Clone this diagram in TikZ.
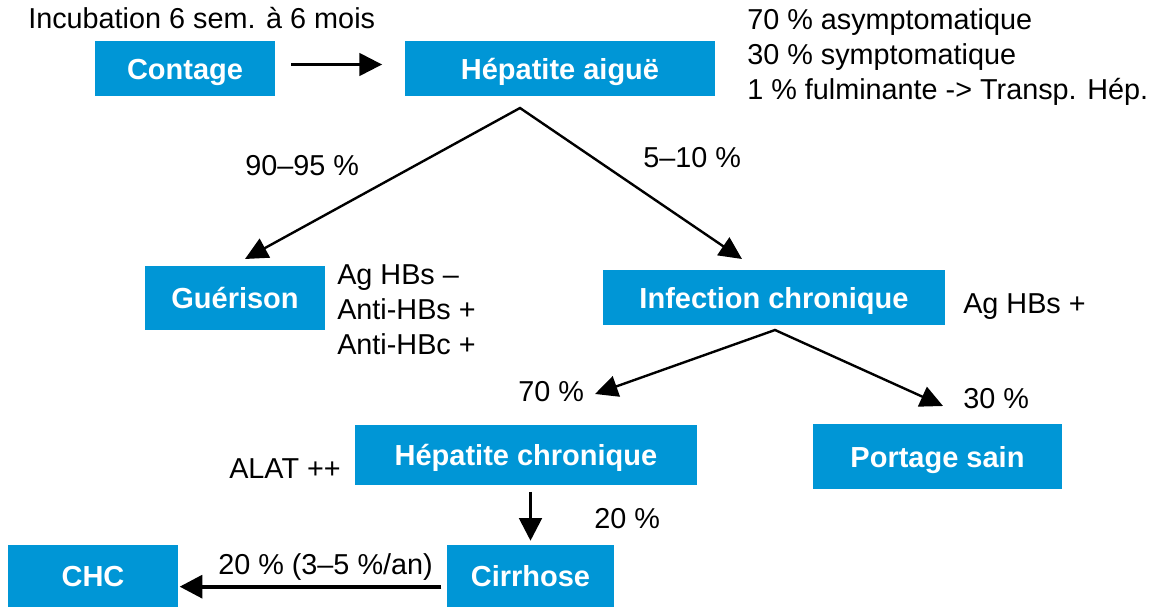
\documentclass[tikz,border=0pt]{standalone}
\usepackage{fontspec}
\setmainfont{Liberation Sans}
\usetikzlibrary{arrows.meta}
\definecolor{boxblue}{RGB}{0,150,214}
\tikzset{
  bluebox/.style={fill=boxblue, text=white, inner sep=0pt, text height=15.8pt, text depth=0pt, font=\fontsize{21.75}{26.25}\selectfont\bfseries},
  wh/.style 2 args={minimum width=#1*0.75pt, minimum height=#2*0.75pt},
  txt/.style={inner sep=0pt, align=left, font=\fontsize{21.6}{26.25}\selectfont},
  arr/.style={line width=1.8pt, -{Triangle[length=17pt,width=17pt]}},
  twoarr/.style={line width=1.8pt, {Triangle[length=17pt,width=16pt]}-{Triangle[length=17pt,width=16pt]}},
}

\begin{document}
\begin{tikzpicture}[x=0.75pt,y=0.75pt,yscale=-1,xscale=1]
\path[use as bounding box] (0,0) rectangle (1154,613);

%Shape: Boxes
\node[bluebox, wh={180}{55}] (cont) at (185,68.5) {Contage};
\node[bluebox, wh={310}{55}] (aigue) at (560,68.5) {Hépatite aiguë};
\node[bluebox, wh={180}{64}] (guer) at (235,298) {Guérison};
\node[bluebox, wh={342}{55}] (infchr) at (774,297.5) {Infection chronique};
\node[bluebox, wh={342}{60}] (hepchr) at (526,455) {Hépatite chronique};
\node[bluebox, wh={249}{65}] (portage) at (937.5,456.5) {Portage sain};
\node[bluebox, wh={167}{62}] (cirr) at (530.5,576) {Cirrhose};
\node[bluebox, wh={170}{62}] (chc) at (93,576) {CHC};

% Text Node
\node[txt, anchor=base west] (incub) at (28,29) {Incubation 6 sem. à 6 mois};
% Text Node
\node[txt, anchor=north west] (formes) at (747,8) {70 \% asymptomatique\\30 \% symptomatique\\1 \% fulminante -> Transp. Hép.};
% Text Node
\node[txt, anchor=base west] (p9095) at (245,176) {90–95 \%};
\node[txt, anchor=base west] (p510) at (643,168) {5–10 \%};
% Text Node
\node[txt, anchor=north west] (serol) at (337,264) {Ag HBs –\\Anti-HBs +\\Anti-HBc +};
\node[txt, anchor=base west] (aghbs) at (963,313) {Ag HBs +};
% Text Node
\node[txt, anchor=base west] (p70) at (518,401) {70 \%};
\node[txt, anchor=base west] (p30) at (963,408) {30 \%};
\node[txt, anchor=base west] (alat) at (229,478) {ALAT ++};
\node[txt, anchor=base west] (p20) at (594,528) {20 \%};
\node[txt, anchor=base west] (p20an) at (218,574) {20 \% (3–5 \%/an)};

%Split points
\coordinate (ap1) at (520,108);
\coordinate (tip1) at (245,259);
\coordinate (tip2) at (742,259);
\coordinate (ap2) at (775,330);
\coordinate (tip3) at (595,394);
\coordinate (tip4) at (943,406);

%Straight Lines
\draw[arr, shorten <=12pt, shorten >=17pt] ([yshift=-3pt]cont.east) -- ([yshift=-3pt]aigue.west);
\draw[twoarr] (tip1) -- (ap1) -- (tip2);
\draw[twoarr] (tip3) -- (ap2) -- (tip4);
\draw[arr, line width=2.2pt, shorten <=5pt, shorten >=3pt] (cirr.north |- hepchr.south) -- (cirr.north);
\draw[arr, line width=3pt, shorten <=4pt, shorten >=1pt] ([yshift=8pt]cirr.west) -- ([yshift=8pt]chc.east);

\end{tikzpicture}
\end{document}
